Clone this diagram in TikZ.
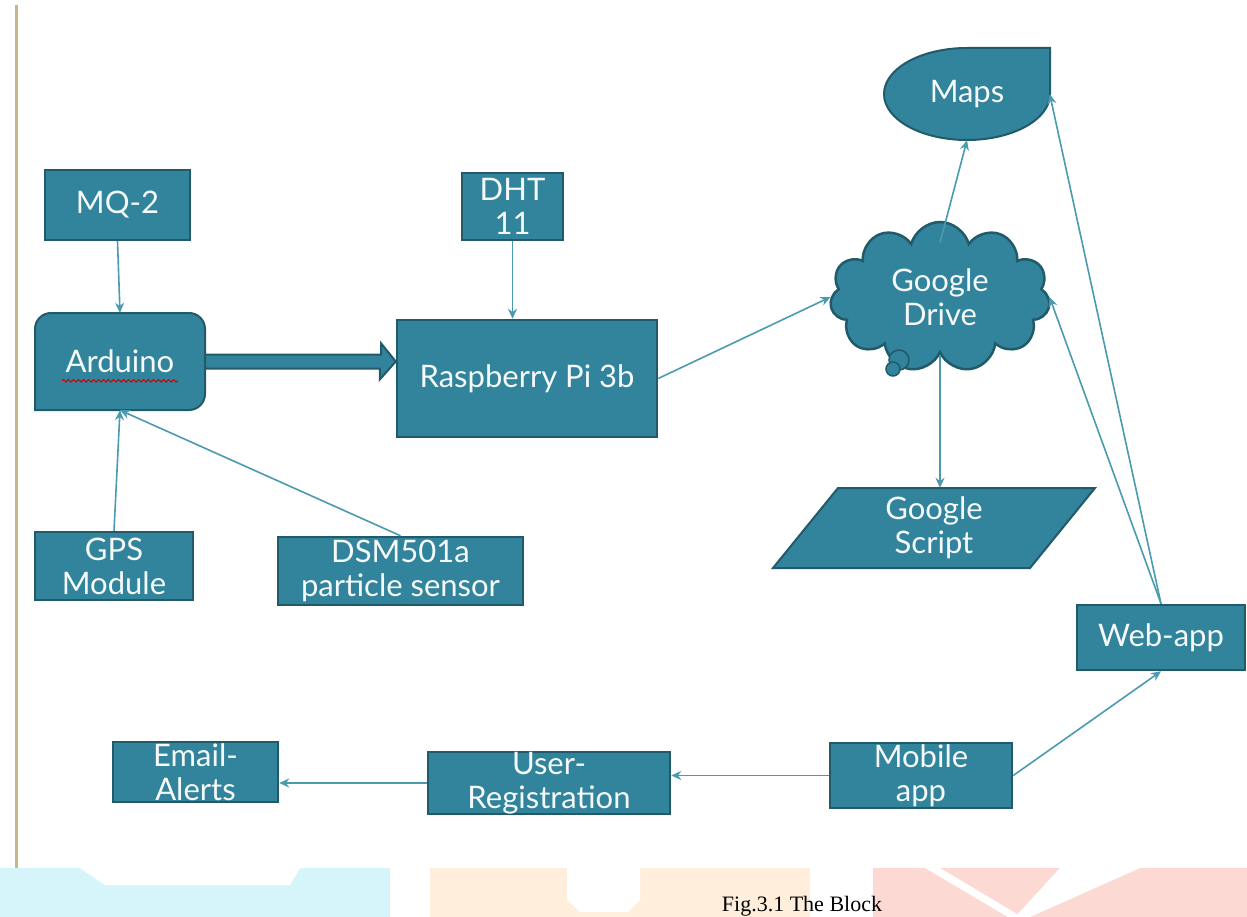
\documentclass[tikz,border=0pt]{standalone}
\usepackage{fontspec}
\setmainfont{Lato}
\newfontfamily\capfont{Liberation Serif}
\usetikzlibrary{positioning,shapes.geometric,shapes.symbols,arrows.meta,calc,decorations.pathmorphing}

\definecolor{boxfill}{HTML}{31849B}
\definecolor{boxline}{HTML}{215A69}
\definecolor{linkcol}{HTML}{4A9AB0}
\definecolor{edgetan}{HTML}{C9B78C}
\definecolor{wmcyan}{HTML}{D6F5FB}
\definecolor{wmorange}{HTML}{FFEEDC}
\definecolor{wmpink}{HTML}{FDD9D3}

\tikzset{
  block/.style={draw=boxline, line width=2.5pt, fill=boxfill, text=white!95!boxfill,
    font=\fontsize{31}{34}\selectfont, align=center, inner sep=0pt},
  label/.style={text=white!95!boxfill, font=\fontsize{31}{34}\selectfont, align=center, inner sep=0pt},
  link/.style={draw=linkcol, line width=1.6pt, -{Stealth[length=10pt,width=9pt]}},
  fatarrow/.style={draw=boxline, line width=2pt, fill=boxfill},
  spellwave/.style={draw=red!80!black, line width=1pt,
    decorate, decoration={snake, amplitude=1.2pt, segment length=5pt}},
}

\begin{document}
\begin{tikzpicture}[x=1pt, y=-1pt]
\useasboundingbox (0,0) rectangle (1247,917);
\fill[white] (0,0) rectangle (1247,917);

% watermark at the foot of the page
\fill[wmcyan] (0,868) rectangle (390,917);
\fill[white] (80,868) -- (300,868) -- (290,885) -- (105,885) -- cycle;
\fill[wmorange] (430,868) rectangle (810,917);
\fill[white] (567,868) -- (640,868) -- (640,900) -- (628,912) -- (580,912) -- (567,900) -- cycle;
\fill[wmpink] (873,868) rectangle (1250,917);
\fill[white] (925,868) -- (940,868) -- (1022,917) -- (1008,917) -- cycle;
\fill[white] (1060,868) -- (1140,868) -- (1030,917) -- (1015,917) -- cycle;
\draw[edgetan, line width=3pt] (16,5) -- (16,868);

% shapes drawn by hand
\draw[fatarrow] (35,410) [rounded corners=16pt] -- (35,313) -- (205,313) -- (205,410) [sharp corners] -- cycle;
\draw[fatarrow] (1050,48) -- (1050,94) arc[start angle=0, end angle=270, x radius=83, y radius=46] -- cycle;
\draw[fatarrow] (838,488) -- (1095,488) -- (1030,568) -- (773,568) -- cycle;

% sensors and boards
\node[block, minimum width=145pt, minimum height=70pt] (mq2) at (117.5,205) {MQ-2};
\node[label, minimum width=170pt, minimum height=97pt] (ard) at (120,361.5) {Arduino};
\node[block, minimum width=260pt, minimum height=117pt] (rpi) at (527,378.5) {Raspberry Pi 3b};
\node[block, minimum width=101pt, minimum height=67pt] (dht) at (512.5,206.5) {DHT\\11};
\node[block, minimum width=158pt, minimum height=68pt] (gps) at (114,566) {GPS\\Module};
\node[block, minimum width=245pt, minimum height=68pt] (dsm) at (400.5,571) {DSM501a\\particle sensor};

% cloud side
\node[block, cloud, cloud puffs=11, aspect=1.5, minimum width=220pt, minimum height=150pt] (gdrive) at (940,297) {Google\\Drive};
\fill[boxfill, draw=boxline, line width=1.5pt] (899,360) circle[radius=10pt];
\fill[boxfill, draw=boxline, line width=1.5pt] (893,369) circle[radius=7pt];
\node[label, minimum width=165pt, minimum height=92pt] (maps) at (967,94) {Maps};
\node[label, minimum width=322pt, minimum height=80pt] (gscript) at (934,528) {Google\\Script};

% apps
\node[block, minimum width=168pt, minimum height=65pt] (webapp) at (1161,637.5) {Web-app};
\node[block, minimum width=182pt, minimum height=65pt] (mobile) at (921,775.5) {Mobile\\app};
\node[block, minimum width=242pt, minimum height=58pt] (userreg) at (549,783) {User-\\Registration};
\node[block, minimum width=165pt, minimum height=60pt] (email) at (195.5,772) {Email-\\Alerts};

\draw[spellwave] ([xshift=-58pt, yshift=-8pt]ard.base) -- ([xshift=58pt, yshift=-8pt]ard.base);

% connectors
\draw[link] (mq2.south) -- (ard.north);
\draw[link] (gps.north) -- (ard.south);
\draw[link] (dsm.north) -- (ard.south);
\draw[link] (dht.south) -- (dht.south |- rpi.north);
\draw[fatarrow] (ard.east) ++(0,-7) -- ++(176,0) -- ++(0,-11) -- (ard.east -| rpi.west) -- ++(-16,18) -- ++(0,-11) -- ($(ard.east)+(0,7)$) -- cycle;
\draw[link] (rpi.east) -- (gdrive.west);
\draw[link] ([yshift=-22pt]gdrive.north) -- (maps.south);
\draw[link] (gdrive.south) -- (gdrive.south |- gscript.north);
\draw[link] (webapp.north) -- (maps.east);
\draw[link] (webapp.north) -- (gdrive.east);
\draw[link] (mobile.east) -- (webapp.south);
\draw[link] (mobile.west) -- (mobile.west -| userreg.east);
\draw[link] (userreg.west) -- (userreg.west -| email.east);

\node[font=\capfont\fontsize{22}{24}\selectfont, anchor=base] (caption) at (802,911) {Fig.3.1 The Block};
\end{tikzpicture}
\end{document}
